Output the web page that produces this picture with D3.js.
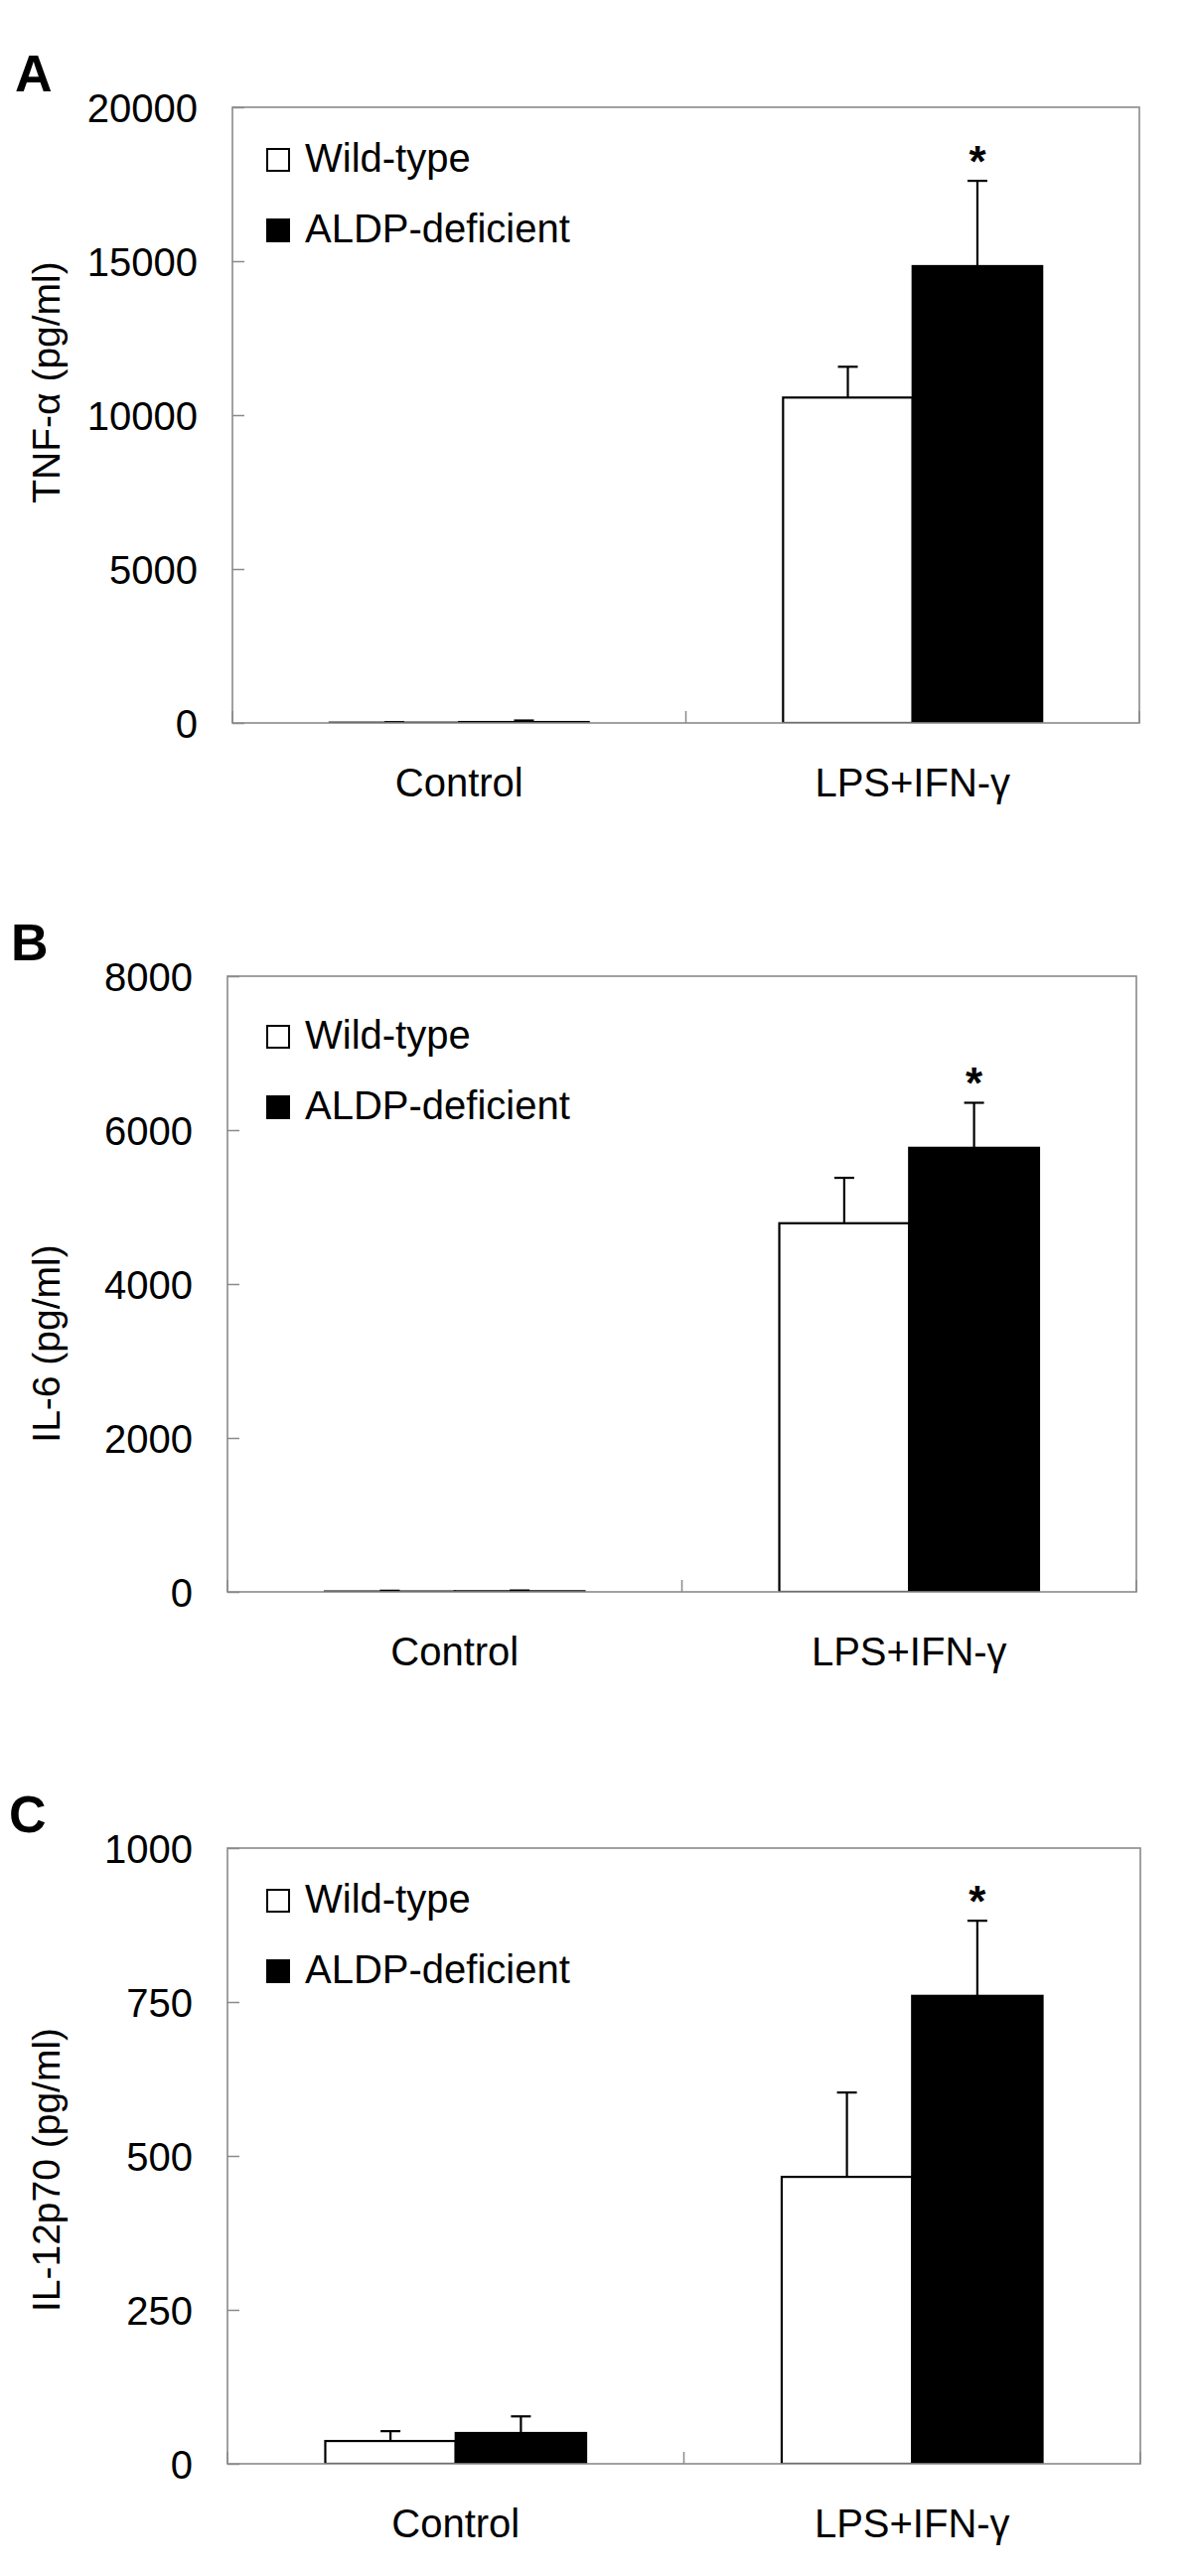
<!DOCTYPE html>
<html>
<head>
<meta charset="utf-8">
<script src="https://cdn.jsdelivr.net/npm/d3@7"></script>
<style>
  html, body { margin: 0; padding: 0; background: #fff; }
  svg text { font-family: "Liberation Sans", Arial, sans-serif; fill: #000; }
</style>
</head>
<body>
<svg id="chart" width="1200" height="2594"></svg>
<script>
// ---------- data ----------
const categories = ["Control", "LPS+IFN-γ"];
const seriesNames = ["Wild-type", "ALDP-deficient"];

const tnfWT = [10, 10570];
const tnfWTErr = [15, 1000];
const tnfKO = [30, 14840];
const tnfKOErr = [50, 2770];
const tnfTicks = [0, 5000, 10000, 15000, 20000];

const il6WT = [5, 4790];
const il6WTErr = [10, 590];
const il6KO = [8, 5770];
const il6KOErr = [10, 585];
const il6Ticks = [0, 2000, 4000, 6000, 8000];

const il12WT = [37, 466];
const il12WTErr = [16, 137];
const il12KO = [50, 760];
const il12KOErr = [27, 122];
const il12Ticks = [0, 250, 500, 750, 1000];

const panelLetters = ["A", "B", "C"];
const yTitles = ["TNF-α (pg/ml)", "IL-6 (pg/ml)", "IL-12p70 (pg/ml)"];
const significant = [[false, false], [false, true]]; // [category][series]

// ---------- layout ----------
const layout = [
  { top: 108, bottom: 728, left: 234, right: 1147, letterX: 15, letterY: 92, titleY: 385, legendDy: 0 },
  { top: 983, bottom: 1603, left: 229, right: 1144, letterX: 11, letterY: 967, titleY: 1353, legendDy: 8 },
  { top: 1861, bottom: 2481, left: 229, right: 1148, letterX: 9, letterY: 1845, titleY: 2185, legendDy: 0 }
];

const panelData = [
  { wt: tnfWT, wtErr: tnfWTErr, ko: tnfKO, koErr: tnfKOErr, ticks: tnfTicks },
  { wt: il6WT, wtErr: il6WTErr, ko: il6KO, koErr: il6KOErr, ticks: il6Ticks },
  { wt: il12WT, wtErr: il12WTErr, ko: il12KO, koErr: il12KOErr, ticks: il12Ticks }
];

const svg = d3.select("#chart");
const defs = svg.append("defs");
const frameColor = "#8a8a8a";
const fills = ["#ffffff", "#000000"];

panelData.forEach((pd, pi) => {
  const L = layout[pi];
  const g = svg.append("g");

  // clip so bar outlines do not spill below the baseline
  defs.append("clipPath").attr("id", "clip" + pi)
    .append("rect")
    .attr("x", L.left - 5).attr("y", L.top - 200)
    .attr("width", L.right - L.left + 10).attr("height", L.bottom - L.top + 200);

  const y = d3.scaleLinear()
    .domain([pd.ticks[0], pd.ticks[pd.ticks.length - 1]])
    .range([L.bottom, L.top]);

  const x0 = d3.scaleBand().domain(categories).range([L.left, L.right]).paddingInner(0).paddingOuter(0);
  const x1 = d3.scaleBand().domain(seriesNames).range([0, x0.bandwidth()]).paddingInner(0).paddingOuter(0.75);

  const rows = categories.map((c, ci) => [
    { cat: c, s: seriesNames[0], v: pd.wt[ci], e: pd.wtErr[ci], sig: significant[ci][0], si: 0 },
    { cat: c, s: seriesNames[1], v: pd.ko[ci], e: pd.koErr[ci], sig: significant[ci][1], si: 1 }
  ]).flat();

  const marks = g.append("g").attr("clip-path", `url(#clip${pi})`);

  // bars
  marks.selectAll("rect.bar").data(rows).join("rect")
    .attr("class", "bar")
    .attr("x", d => x0(d.cat) + x1(d.s))
    .attr("y", d => y(d.v))
    .attr("width", x1.bandwidth())
    .attr("height", d => y(0) - y(d.v))
    .attr("fill", d => fills[d.si])
    .attr("stroke", "#000")
    .attr("stroke-width", 2.2);

  // error bars (upper only)
  const cx = d => x0(d.cat) + x1(d.s) + x1.bandwidth() / 2;
  marks.selectAll("line.err").data(rows).join("line")
    .attr("class", "err")
    .attr("x1", cx).attr("x2", cx)
    .attr("y1", d => y(d.v)).attr("y2", d => y(d.v + d.e))
    .attr("stroke", "#000").attr("stroke-width", 2.2);
  marks.selectAll("line.cap").data(rows).join("line")
    .attr("class", "cap")
    .attr("x1", d => cx(d) - 10).attr("x2", d => cx(d) + 10)
    .attr("y1", d => y(d.v + d.e)).attr("y2", d => y(d.v + d.e))
    .attr("stroke", "#000").attr("stroke-width", 2.2);

  // significance stars
  g.selectAll("text.star").data(rows.filter(d => d.sig)).join("text")
    .attr("class", "star")
    .attr("x", cx)
    .attr("y", d => y(d.v + d.e) - 4)
    .attr("text-anchor", "middle")
    .attr("font-size", 44)
    .attr("font-weight", "bold")
    .text("*");

  // frame
  g.append("rect")
    .attr("x", L.left).attr("y", L.top)
    .attr("width", L.right - L.left).attr("height", L.bottom - L.top)
    .attr("fill", "none").attr("stroke", frameColor).attr("stroke-width", 1.6);

  // y axis
  const yAxis = d3.axisLeft(y).tickValues(pd.ticks).tickSizeInner(-12).tickSizeOuter(0).tickPadding(35)
    .tickFormat(d3.format("d"));
  const ya = g.append("g").attr("transform", `translate(${L.left},0)`).call(yAxis);
  ya.select(".domain").remove();
  ya.selectAll(".tick line").attr("stroke", frameColor).attr("stroke-width", 1.5);
  ya.selectAll(".tick text").attr("font-size", 40).attr("font-family", "Liberation Sans, Arial, sans-serif")
    .attr("fill", "#000").attr("dy", "0.35em");

  // x axis: boundary ticks
  const bounds = [L.left, x0(categories[1]), L.right];
  g.selectAll("line.xtick").data(bounds).join("line")
    .attr("class", "xtick")
    .attr("x1", d => d).attr("x2", d => d)
    .attr("y1", L.bottom).attr("y2", L.bottom - 12)
    .attr("stroke", frameColor).attr("stroke-width", 1.5);

  // category labels
  g.selectAll("text.cat").data(categories).join("text")
    .attr("class", "cat")
    .attr("x", d => x0(d) + x0.bandwidth() / 2)
    .attr("y", L.bottom + 74)
    .attr("text-anchor", "middle")
    .attr("font-size", 40)
    .text(d => d);

  // y title
  g.append("text")
    .attr("transform", `translate(60,${L.titleY}) rotate(-90)`)
    .attr("text-anchor", "middle")
    .attr("font-size", 39)
    .text(yTitles[pi]);

  // panel letter
  g.append("text")
    .attr("x", L.letterX).attr("y", L.letterY)
    .attr("font-size", 52).attr("font-weight", "bold")
    .text(panelLetters[pi]);

  // legend
  const leg = g.append("g").attr("transform", `translate(268,${L.top + 41 + L.legendDy})`);
  seriesNames.forEach((s, si) => {
    leg.append("rect")
      .attr("x", 1).attr("y", si * 71 + 1)
      .attr("width", 22).attr("height", 22)
      .attr("fill", fills[si]).attr("stroke", "#000").attr("stroke-width", 2);
    leg.append("text")
      .attr("x", 39).attr("y", si * 71 + 24)
      .attr("font-size", 40)
      .text(s);
  });
});
</script>
</body>
</html>
